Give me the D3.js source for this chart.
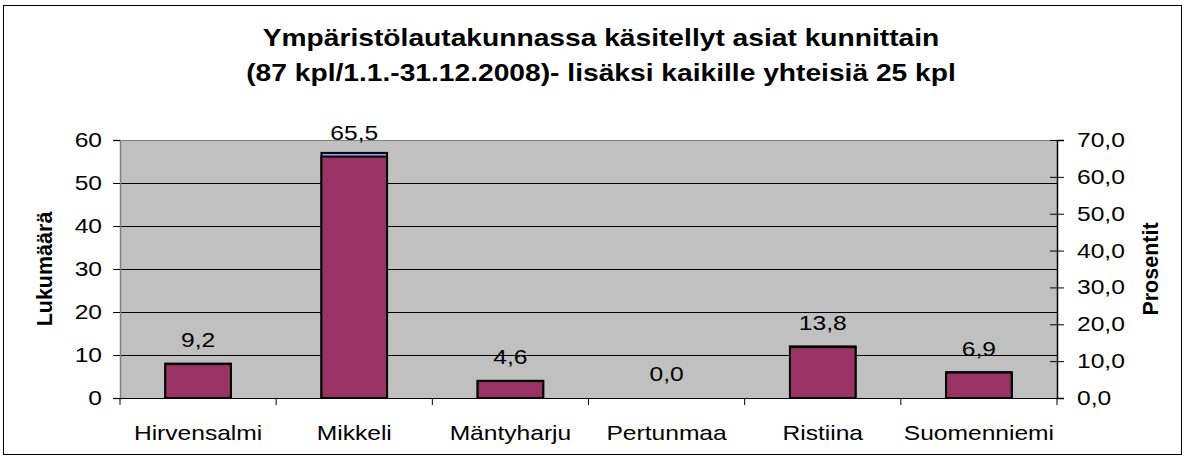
<!DOCTYPE html>
<html>
<head>
<meta charset="utf-8">
<script src="https://cdn.jsdelivr.net/npm/d3@7"></script>
<style>
  body { margin: 0; background: #fff; }
  svg { display: block; font-family: "Liberation Sans", Arial, sans-serif; }
</style>
</head>
<body>
<svg id="chart" width="1187" height="461"></svg>
<script>
// data
var categories = ['Hirvensalmi', 'Mikkeli', 'Mäntyharju', 'Pertunmaa', 'Ristiina', 'Suomenniemi'];
var counts = [8, 57, 4, 0, 12, 6];            // Lukumäärä (left axis)
var percents = [9.2, 65.5, 4.6, 0.0, 13.8, 6.9]; // Prosentit (right axis)
var leftTicks = [0, 10, 20, 30, 40, 50, 60];
var rightTicks = [0, 10, 20, 30, 40, 50, 60, 70];
var titleLines = [
  'Ympäristölautakunnassa käsitellyt asiat kunnittain',
  '(87 kpl/1.1.-31.12.2008)- lisäksi kaikille yhteisiä 25 kpl'
];
var leftTitle = 'Lukumäärä';
var rightTitle = 'Prosentit';

// text in the original is stretched sideways
var SX = 1.2;

var svg = d3.select('#chart');
var plot = { left: 120, right: 1057, top: 140, bottom: 398 };

var fmt1 = function(d) { return d3.format('.1f')(d).replace('.', ','); };

// outer frame
svg.append('rect')
  .attr('x', 3.5).attr('y', 5.5)
  .attr('width', 1178).attr('height', 449)
  .attr('fill', '#fff')
  .attr('stroke', '#000')
  .attr('stroke-width', 1);

// scales
var x = d3.scaleBand().domain(categories).range([plot.left, plot.right]).padding(0);
var yL = d3.scaleLinear().domain([0, 60]).range([plot.bottom, plot.top]);
var yR = d3.scaleLinear().domain([0, 70]).range([plot.bottom, plot.top]);
var barW = x.bandwidth() * 0.42;

function stretchText(sel, anchor) {
  sel.each(function() {
    var t = d3.select(this);
    var tx = +t.attr('x') || 0;
    var ty = +t.attr('y') || 0;
    t.attr('x', 0).attr('y', 0)
      .attr('transform', 'translate(' + tx + ',' + ty + ') scale(' + SX + ',1)');
    if (anchor) t.attr('text-anchor', anchor);
  });
}

// plot background
svg.append('rect')
  .attr('x', plot.left).attr('y', plot.top)
  .attr('width', plot.right - plot.left).attr('height', plot.bottom - plot.top)
  .attr('fill', '#c0c0c0');

// gridlines
svg.append('g')
  .selectAll('line')
  .data(leftTicks.filter(function(d) { return d > 0; }))
  .enter()
  .append('line')
  .attr('x1', plot.left).attr('x2', plot.right)
  .attr('y1', function(d) { return Math.round(yL(d)) + 0.5; })
  .attr('y2', function(d) { return Math.round(yL(d)) + 0.5; })
  .attr('stroke', function(d) { return d === 60 ? '#808080' : '#000'; })
  .attr('stroke-width', 1);

// count bars (behind)
svg.append('g')
  .selectAll('rect')
  .data(counts)
  .enter()
  .append('rect')
  .attr('x', function(d, i) { return x(categories[i]) + (x.bandwidth() - barW) / 2; })
  .attr('y', function(d) { return yL(d); })
  .attr('width', barW)
  .attr('height', function(d) { return plot.bottom - yL(d); })
  .attr('fill', '#9999ff')
  .attr('stroke', '#000')
  .attr('stroke-width', function(d) { return d > 0 ? 2 : 0; });

// percent bars (front)
svg.append('g')
  .selectAll('rect')
  .data(percents)
  .enter()
  .append('rect')
  .attr('x', function(d, i) { return x(categories[i]) + (x.bandwidth() - barW) / 2; })
  .attr('y', function(d) { return yR(d); })
  .attr('width', barW)
  .attr('height', function(d) { return plot.bottom - yR(d); })
  .attr('fill', '#993366')
  .attr('stroke', '#000')
  .attr('stroke-width', function(d) { return d > 0 ? 2 : 0; });

// left axis
var gL = svg.append('g')
  .attr('transform', 'translate(' + plot.left + ',0)')
  .call(d3.axisLeft(yL).tickValues(leftTicks).tickSize(7).tickPadding(11));
gL.select('.domain').attr('stroke', '#808080').attr('stroke-width', 1.5);
gL.selectAll('.tick line').attr('stroke', '#000');
gL.selectAll('.tick text')
  .attr('font-size', 20.5).attr('fill', '#000').attr('font-family', null)
  .call(stretchText, 'end');

// right axis, ticks cross the line
var gR = svg.append('g')
  .attr('transform', 'translate(' + plot.right + ',0)')
  .call(d3.axisRight(yR).tickValues(rightTicks).tickFormat(fmt1).tickSize(7).tickPadding(13));
gR.select('.domain').attr('stroke', '#000').attr('stroke-width', 1.5);
gR.selectAll('.tick line').attr('x1', -7).attr('stroke', '#000');
gR.selectAll('.tick text')
  .attr('font-size', 20.5).attr('fill', '#000').attr('font-family', null)
  .call(stretchText, 'start');

// bottom axis, ticks at band edges
var gB = svg.append('g')
  .attr('transform', 'translate(0,' + plot.bottom + ')');
gB.append('line')
  .attr('x1', plot.left - 7).attr('x2', plot.right)
  .attr('y1', 0.5).attr('y2', 0.5)
  .attr('stroke', '#000').attr('stroke-width', 1.2);
gB.selectAll('.edge')
  .data(categories.concat(['end']))
  .enter()
  .append('line')
  .attr('class', 'edge')
  .attr('x1', function(d, i) { return plot.left + i * x.step(); })
  .attr('x2', function(d, i) { return plot.left + i * x.step(); })
  .attr('y1', 0).attr('y2', 7)
  .attr('stroke', '#000');
gB.selectAll('.cat')
  .data(categories)
  .enter()
  .append('text')
  .attr('class', 'cat')
  .attr('x', function(d) { return x(d) + x.bandwidth() / 2; })
  .attr('y', 42)
  .attr('font-size', 20.5)
  .text(function(d) { return d; })
  .call(stretchText, 'middle');

// data labels (percent values)
svg.append('g')
  .selectAll('text')
  .data(percents)
  .enter()
  .append('text')
  .attr('x', function(d, i) { return x(categories[i]) + x.bandwidth() / 2; })
  .attr('y', function(d) { return yR(d) - 17; })
  .attr('font-size', 20.5)
  .text(fmt1)
  .call(stretchText, 'middle');

// title
svg.append('g')
  .selectAll('text')
  .data(titleLines)
  .enter()
  .append('text')
  .attr('x', 601)
  .attr('y', function(d, i) { return 46 + i * 35; })
  .attr('font-size', 23.5)
  .attr('font-weight', 'bold')
  .text(function(d) { return d; })
  .call(stretchText, 'middle');

// axis titles
svg.append('text')
  .attr('transform', 'translate(52,' + (plot.top + plot.bottom) / 2 + ') rotate(-90)')
  .attr('text-anchor', 'middle')
  .attr('font-size', 21.5)
  .attr('font-weight', 'bold')
  .text(leftTitle);
svg.append('text')
  .attr('transform', 'translate(1158,' + (plot.top + plot.bottom) / 2 + ') rotate(-90)')
  .attr('text-anchor', 'middle')
  .attr('font-size', 21.5)
  .attr('font-weight', 'bold')
  .text(rightTitle);
</script>
</body>
</html>
